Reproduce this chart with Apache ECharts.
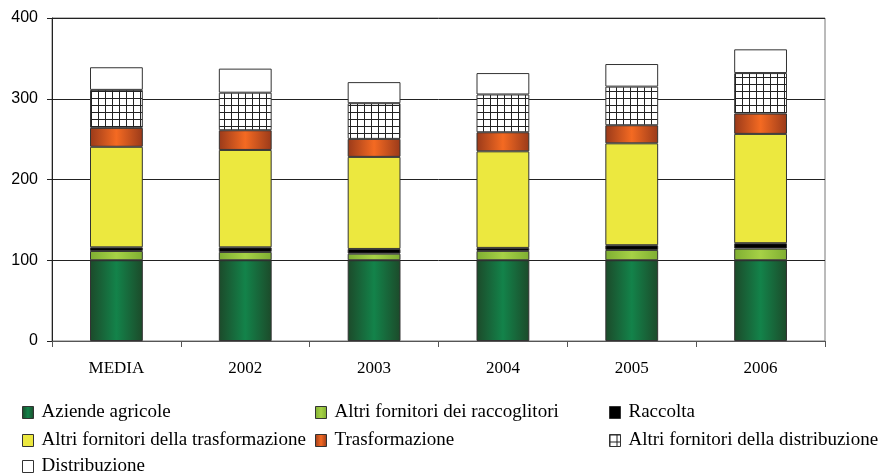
<!DOCTYPE html>
<html><head><meta charset="utf-8">
<script src="https://cdn.jsdelivr.net/npm/echarts@6/dist/echarts.min.js"></script>
<style>html,body{margin:0;padding:0;background:#fff}#c{width:882px;height:473px}</style>
</head><body><div id="c"></div>
<script>
const categories = ['MEDIA','2002','2003','2004','2005','2006'];
const aziende = [100, 100, 100, 100, 100, 100];
const altriRacc = [11.5, 10.3, 8.2, 11.6, 12.8, 14.4];
const raccolta = [4.5, 5.7, 5.8, 3.7, 5.8, 6.7];
const altriTrasf = [124.5, 120.6, 114, 119.6, 126.2, 135.4];
const trasformazione = [23.5, 24.4, 22.3, 23.6, 22.4, 25.2];
const altriDistr = [47, 46.5, 44.2, 46.8, 47.8, 50.1];
const distribuzione = [28, 29.8, 26.1, 26.5, 28, 29.4];
const yTicks = [0, 100, 200, 300, 400];

function hgrad(edge, mid){
  return {type:'linear',x:0,y:0,x2:1,y2:0,colorStops:[
    {offset:0,color:edge},{offset:0.5,color:mid},{offset:1,color:edge}]};
}
const pc = document.createElement('canvas');
pc.width = 7; pc.height = 7;
const g = pc.getContext('2d');
g.fillStyle = '#fff'; g.fillRect(0,0,7,7);
g.fillStyle = '#222'; g.fillRect(0,0,7,1); g.fillRect(0,0,1,7);

const serif = '"Liberation Serif","Times New Roman",serif';
const sans = '"Liberation Sans",Arial,sans-serif';
const names = ['Aziende agricole','Altri fornitori dei raccoglitori','Raccolta',
  'Altri fornitori della trasformazione','Trasformazione','Altri fornitori della distribuzione','Distribuzione'];
const datas = [aziende, altriRacc, raccolta, altriTrasf, trasformazione, altriDistr, distribuzione];
const colors = [hgrad('#1c4a2a','#13834a'), hgrad('#7fae32','#a6d146'), '#000000', '#ece83f',
  hgrad('#9a3a1a','#f46a22'), {image: pc, repeat:'repeat'}, '#ffffff'];

const series = names.map((n,i)=>({
  name:n, type:'bar', stack:'s', data:datas[i], barWidth:'41%',
  itemStyle:{color:colors[i], borderColor:'#333', borderWidth:1},
  emphasis:{disabled:true}
}));

// legend layout: [name index, left, top]
const legendPos = [[0,22,403],[1,315,403],[2,609,403],[3,22,431],[4,315,431],[5,609,431],[6,22,457]];
const legends = legendPos.map(([i,l,t])=>({
  data:[names[i]], left:l, top:t, padding:0, itemWidth:11, itemHeight:12, icon:'rect',
  itemStyle:{borderColor:'#333', borderWidth:1},
  textStyle:{fontFamily:serif, fontSize:19, color:'#000', padding:[0,0,0,3]}
}));

const chart = echarts.init(document.getElementById('c'));
chart.setOption({
  animation:false,
  grid:{left:52, right:57, top:18, bottom:132, show:true, borderColor:'#777', borderWidth:1},
  legend:legends,
  xAxis:{type:'category', data:categories,
    axisLine:{lineStyle:{color:'#555'}},
    axisTick:{show:true, length:6, lineStyle:{color:'#555'}},
    axisLabel:{fontFamily:serif, fontSize:17, color:'#000', margin:19}},
  yAxis:{type:'value', min:yTicks[0], max:yTicks[yTicks.length-1], interval:100,
    axisLine:{show:true, lineStyle:{color:'#222'}},
    axisTick:{show:true, length:5, lineStyle:{color:'#222'}},
    splitLine:{lineStyle:{color:'#222'}},
    axisLabel:{fontFamily:sans, fontSize:16, color:'#000', margin:14}},
  series:series
});
</script></body></html>
